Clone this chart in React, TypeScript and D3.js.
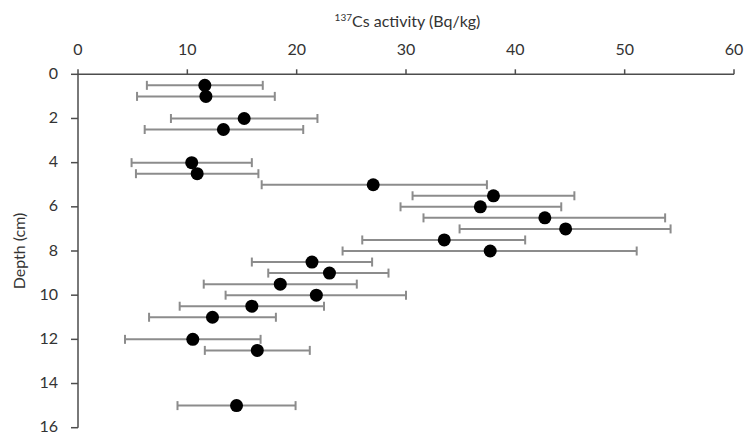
import React from "react";
import * as d3 from "d3";

const depths = [0.5, 1, 2, 2.5, 4, 4.5, 5, 5.5, 6, 6.5, 7, 7.5, 8, 8.5, 9, 9.5, 10, 10.5, 11, 12, 12.5, 15];
const activity = [11.6, 11.7, 15.2, 13.3, 10.4, 10.9, 27.0, 38.0, 36.8, 42.7, 44.6, 33.5, 37.7, 21.4, 23.0, 18.5, 21.8, 15.9, 12.3, 10.5, 16.4, 14.5];
const errLow = [6.3, 5.4, 8.5, 6.1, 4.9, 5.3, 16.8, 30.6, 29.5, 31.6, 34.9, 26.0, 24.2, 15.9, 17.4, 11.5, 13.5, 9.3, 6.5, 4.3, 11.6, 9.1];
const errHigh = [16.9, 18.0, 21.9, 20.6, 15.9, 16.5, 37.4, 45.4, 44.2, 53.7, 54.2, 40.9, 51.1, 26.9, 28.4, 25.5, 30.0, 22.5, 18.1, 16.7, 21.2, 19.9];
const xTicks = [0, 10, 20, 30, 40, 50, 60];
const yTicks = [0, 2, 4, 6, 8, 10, 12, 14, 16];

const W = 748;
const H = 437;
const FONT = "Lato, 'Open Sans', sans-serif";

export default function App() {
  const x = d3.scaleLinear().domain([0, 60]).range([78, 734]);
  const y = d3.scaleLinear().domain([0, 16]).range([74.3, 427.7]);
  const axisColor = "#4d4d4d";
  const barColor = "#8c8c8c";
  const textColor = "#333";
  const capH = 4.5;

  return (
    <svg width={W} height={H} style={{ position: "absolute", left: 0, top: 0, background: "#fff" }}>
      {/* error bars */}
      {depths.map((d, i) => (
        <g key={"e" + i} stroke={barColor} strokeWidth={2}>
          <line x1={x(errLow[i])} x2={x(errHigh[i])} y1={y(d)} y2={y(d)} />
          <line x1={x(errLow[i])} x2={x(errLow[i])} y1={y(d) - capH} y2={y(d) + capH} />
          <line x1={x(errHigh[i])} x2={x(errHigh[i])} y1={y(d) - capH} y2={y(d) + capH} />
        </g>
      ))}
      {/* x axis (top) */}
      <line x1={x(0)} x2={x(60)} y1={y(0)} y2={y(0)} stroke={axisColor} strokeWidth={1.5} />
      {xTicks.map((t) => (
        <g key={"xt" + t}>
          <line x1={x(t)} x2={x(t)} y1={y(0) - 5} y2={y(0)} stroke={axisColor} strokeWidth={1.5} />
          <text x={x(t)} y={55} textAnchor="middle" fontFamily={FONT} fontSize={16} fill={textColor}>
            {t}
          </text>
        </g>
      ))}
      {/* y axis */}
      <line x1={x(0)} x2={x(0)} y1={y(0)} y2={y(16)} stroke={axisColor} strokeWidth={1.5} />
      {yTicks.map((t) => (
        <g key={"yt" + t}>
          <line x1={x(0) - 7} x2={x(0)} y1={y(t)} y2={y(t)} stroke={axisColor} strokeWidth={1.5} />
          <text x={58} y={y(t) + 4.5} textAnchor="end" fontFamily={FONT} fontSize={16} fill={textColor}>
            {t}
          </text>
        </g>
      ))}
      {/* points */}
      {depths.map((d, i) => (
        <circle key={"p" + i} cx={x(activity[i])} cy={y(d)} r={6.5} fill="#000" />
      ))}
      {/* titles */}
      <text x={407.5} y={26.7} textAnchor="middle" fontFamily={FONT} fontSize={16} fill={textColor}>
        <tspan fontSize={10} dy={-6}>137</tspan>
        <tspan dy={6}>Cs activity (Bq/kg)</tspan>
      </text>
      <text
        transform={`translate(24.5, 251) rotate(-90)`}
        textAnchor="middle"
        fontFamily={FONT}
        fontSize={16}
        fill={textColor}
      >
        Depth (cm)
      </text>
    </svg>
  );
}
